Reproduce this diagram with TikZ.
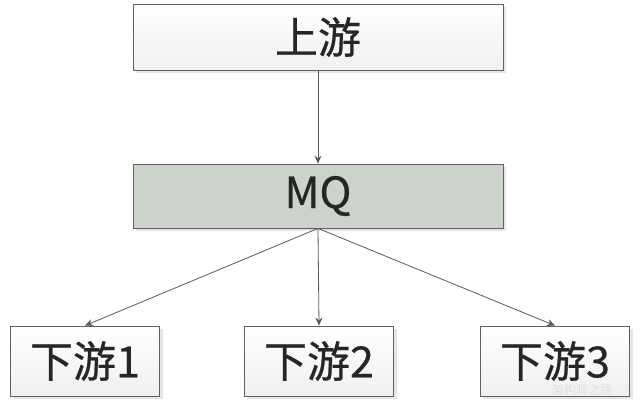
\documentclass[tikz,border=0pt]{standalone}
\usepackage{fontspec}
\newfontfamily\cjk[FakeBold=0.6]{Noto Sans CJK SC}
\newfontfamily\cjkmark{Noto Sans CJK SC}
\usetikzlibrary{shadows,arrows.meta}
\tikzset{
  box/.style={draw=gray!75!black, line width=0.8pt, top color=white, bottom color=gray!12,
    minimum height=66pt, inner sep=0pt, font=\cjk\fontsize{43}{48}\selectfont, text=black!85,
    drop shadow={shadow xshift=3pt, shadow yshift=-3pt, fill=gray!40, opacity=0.5}},
  mqbox/.style={box, top color=mqgreen, bottom color=mqgreen},
  link/.style={draw=gray!70!black, line width=0.8pt, -{Stealth[length=8pt,width=7pt]}}
}
\definecolor{mqgreen}{HTML}{CBD3CB}
\begin{document}
\begin{tikzpicture}[x=1pt,y=1pt]
\useasboundingbox (0,0) rectangle (640,-404);
\pgfmathsetmacro{\wide}{370}
\pgfmathsetmacro{\narrow}{149}
\node[box, minimum width=\wide] (up) at (318,-37) {上游};
\node[mqbox, minimum width=\wide, minimum height=64pt] (mq) at (318,-196) {MQ};
\node[box, minimum width=\narrow, minimum height=70pt] (down1) at (85,-361) {下游1};
\node[box, minimum width=\narrow, minimum height=70pt] (down2) at (319,-361) {下游2};
\node[box, minimum width=\narrow, minimum height=70pt] (down3) at (555,-361) {下游3};
\draw[link] (up) -- (mq);
\draw[link] (mq.south) -- (down1.north);
\draw[link] (mq.south) -- (down2.north);
\draw[link] (mq.south) -- (down3.north);
\node[font=\cjkmark\fontsize{12}{14}\selectfont, text=gray!25] (mark) at (582,-390) {架构师之路};
\end{tikzpicture}
\end{document}
